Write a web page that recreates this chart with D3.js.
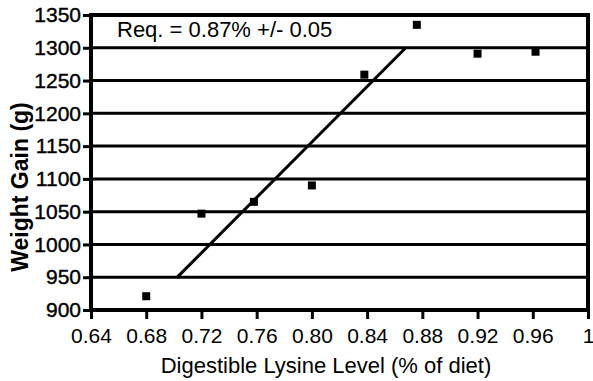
<!DOCTYPE html>
<html>
<head>
<meta charset="utf-8">
<script src="https://cdn.jsdelivr.net/npm/d3@7"></script>
<style>
  html, body { margin: 0; padding: 0; background: #fff; }
  svg { display: block; }
  text { font-family: "Liberation Sans", Arial, Helvetica, sans-serif; fill: #000; }
</style>
</head>
<body>
<svg id="chart" width="593" height="381"></svg>
<script>
// ---- data ----
const lysineLevels = [0.68, 0.72, 0.758, 0.80, 0.838, 0.876, 0.92, 0.962];
const weightGain   = [921, 1047, 1065, 1090, 1259, 1335, 1291, 1294];
const fitLineX = [0.702, 0.868];
const fitLineY = [949, 1300];
const xTicks = [0.64, 0.68, 0.72, 0.76, 0.80, 0.84, 0.88, 0.92, 0.96, 1.0];
const xTickLabels = ["0.64", "0.68", "0.72", "0.76", "0.80", "0.84", "0.88", "0.92", "0.96", "1"];
const yTicks = [900, 950, 1000, 1050, 1100, 1150, 1200, 1250, 1300, 1350];
const annotation = "Req. = 0.87% +/- 0.05";
const xTitle = "Digestible Lysine Level (% of diet)";
const yTitle = "Weight Gain (g)";

// ---- layout ----
const svg = d3.select("#chart");
const mLeft = 91, mRight = 588, mTop = 15, mBottom = 310;

const x = d3.scaleLinear().domain([0.64, 1.0]).range([mLeft, mRight]);
const y = d3.scaleLinear().domain([900, 1350]).range([mBottom, mTop]);

// gridlines
svg.append("g")
  .selectAll("line")
  .data(yTicks.filter(d => d !== 900 && d !== 1350))
  .join("line")
  .attr("x1", mLeft).attr("x2", mRight)
  .attr("y1", d => y(d)).attr("y2", d => y(d))
  .attr("stroke", "#000").attr("stroke-width", 3);

// axes
const yAxis = d3.axisLeft(y).tickValues(yTicks).tickSize(8).tickPadding(2).tickFormat(d3.format("d"));
const gy = svg.append("g").attr("transform", `translate(${mLeft},0)`).call(yAxis);
gy.select(".domain").remove();
gy.selectAll(".tick line").attr("stroke", "#000").attr("stroke-width", 3);
gy.selectAll(".tick text").attr("font-size", 21).attr("fill", "#000")
  .attr("stroke", "#000").attr("stroke-width", 0.4)
  .attr("font-family", "'Liberation Sans', Arial, sans-serif");

const xAxis = d3.axisBottom(x).tickValues(xTicks).tickSize(9).tickPadding(9)
  .tickFormat((d, i) => xTickLabels[i]);
const gx = svg.append("g").attr("transform", `translate(0,${mBottom})`).call(xAxis);
gx.select(".domain").remove();
gx.selectAll(".tick line").attr("stroke", "#000").attr("stroke-width", 3);
gx.selectAll(".tick text").attr("font-size", 21).attr("fill", "#000")
  .attr("font-family", "'Liberation Sans', Arial, sans-serif");

// frame
svg.append("rect")
  .attr("x", mLeft).attr("y", mTop)
  .attr("width", mRight - mLeft).attr("height", mBottom - mTop)
  .attr("fill", "none").attr("stroke", "#000").attr("stroke-width", 4);

// fitted line
const lineData = fitLineX.map((d, i) => [d, fitLineY[i]]);
svg.append("path")
  .datum(lineData)
  .attr("d", d3.line().x(d => x(d[0])).y(d => y(d[1])))
  .attr("fill", "none").attr("stroke", "#000").attr("stroke-width", 3);

// points
const s = 8;
svg.append("g")
  .selectAll("rect")
  .data(lysineLevels.map((d, i) => [d, weightGain[i]]))
  .join("rect")
  .attr("x", d => x(d[0]) - s / 2)
  .attr("y", d => y(d[1]) - s / 2)
  .attr("width", s).attr("height", s)
  .attr("fill", "#000");

// annotation
svg.append("text")
  .attr("x", 117).attr("y", 37)
  .attr("font-size", 22)
  .text(annotation);

// axis titles
svg.append("text")
  .attr("x", 326).attr("y", 373)
  .attr("text-anchor", "middle")
  .attr("font-size", 22)
  .text(xTitle);

svg.append("text")
  .attr("transform", "translate(28,187) rotate(-90)")
  .attr("text-anchor", "middle")
  .attr("font-size", 23)
  .attr("font-weight", "bold")
  .text(yTitle);
</script>
</body>
</html>
